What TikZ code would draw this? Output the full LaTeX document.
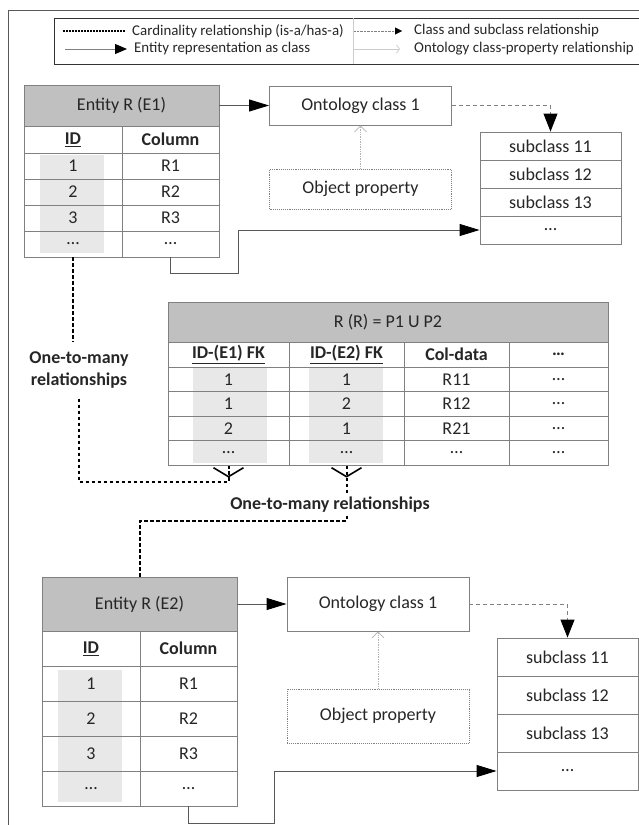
\documentclass[tikz,border=0pt]{standalone}
\usepackage{fontspec}
\setmainfont{Carlito}
\usetikzlibrary{arrows.meta}

\definecolor{hdrgray}{HTML}{C0C0C0}
\definecolor{shadegray}{HTML}{E8E8E8}
\definecolor{linegray}{HTML}{808080}
\definecolor{arrgray}{HTML}{595959}

\begin{document}
\begin{tikzpicture}[x=1pt, y=-1pt, every node/.style={text=black!85},
		cell/.style={draw=linegray, line width=0.9pt, inner sep=0pt, font=\fontsize{18}{22}\selectfont},
		hdr/.style={cell, fill=hdrgray},
		colhead/.style={cell, font=\fontsize{18}{22}\selectfont\bfseries},
		onto/.style={draw=linegray, line width=0.9pt, minimum width=182pt, inner sep=0pt, font=\fontsize{18}{22}\selectfont},
		prop/.style={onto, densely dotted},
		lbl/.style={font=\fontsize{18}{22}\selectfont\bfseries, align=center},
		legtext/.style={anchor=west, inner sep=0pt, font=\fontsize{14.9}{18}\selectfont},
		rel/.style={line width=2pt, dash pattern=on 3.5pt off 2.5pt},
		crow/.style={line width=1.6pt},
		entarrow/.style={arrgray, line width=0.9pt, -{Triangle[length=20pt,width=12pt,color=black]}},
		subarrow/.style={linegray, line width=0.9pt, dash pattern=on 4pt off 3pt, -{Triangle[length=18pt,width=14pt,color=black]}},
		proparrow/.style={gray!60, line width=0.7pt, densely dotted, -{Straight Barb[length=6pt,width=12pt,sep=0pt]}}]
		\useasboundingbox (0,0) rectangle (639,825);
		\draw[arrgray, line width=0.9pt] (8,830) -- (8,10) -- (645,10);
		\draw[black!80, line width=0.9pt] (645,18) -- (54,18) -- (54,64) -- (645,64);
		\draw[gray!40, line width=0.7pt] (353,18) -- (353,64);
		\node[legtext] (lg-card) at (132,31) {Cardinality relationship (is-a/has-a)};
		\node[legtext] (lg-ent) at (134,49) {Entity representation as class};
		\node[legtext] (lg-sub) at (414,31) {Class and subclass relationship};
		\node[legtext] (lg-prop) at (414,49) {Ontology class-property relationship};
		\coordinate (lg-a) at (63,31);
		\coordinate (lg-b) at (65,49);
		\coordinate (lg-c) at (354,31);
		\coordinate (lg-d) at (354,49);
		\draw[line width=1.5pt, dash pattern=on 1.5pt off 1.5pt] (lg-a) -- ([xshift=-7pt]lg-card.west);
		\draw[gray, line width=0.8pt, -{Triangle[length=12pt,width=10pt,color=black]}] (lg-b) -- ([xshift=-7pt]lg-ent.west);
		\draw[linegray, densely dotted, -{Triangle[length=7pt,width=7pt,color=black]}] (lg-c) -- ([xshift=-12pt]lg-sub.west);
		\draw[gray!40, line width=0.8pt, -{Straight Barb[length=3pt,width=8pt]}] (lg-d) -- ([xshift=-14pt]lg-prop.west);

		\fill[shadegray] (40,155) rectangle (104,253);
		\fill[shadegray] (193,367) rectangle (267,463);
		\fill[shadegray] (309,367) rectangle (383,463);
		\fill[shadegray] (58,670) rectangle (122,802);

		\node[hdr, minimum width=195pt, minimum height=41pt] (e1-head) at (121.5,105.5) {Entity R (E1)};
		\node[colhead, minimum width=98pt, minimum height=27pt] (e1-idh) at (73,139.5) {\underline{ID}};
		\node[colhead, minimum width=97pt, minimum height=27pt] (e1-colh) at (170.5,139.5) {Column};
		\foreach \v/\r [count=\i] in {1/R1, 2/R2, 3/R3, \dots/\dots}{
			\node[cell, minimum width=98pt, minimum height=26pt] (e1-id\i) at (73,140+26*\i) {\v};
			\node[cell, minimum width=97pt, minimum height=26pt] (e1-col\i) at (170.5,140+26*\i) {\r};
		}

		\node[hdr, minimum width=440pt, minimum height=40pt] (r-head) at (388,322) {R (R) = P1 U P2};
		\node[colhead, minimum width=121pt, minimum height=25pt] (r-ah) at (228.5,354.5) {\underline{ID-(E1) FK}};
		\node[colhead, minimum width=115pt, minimum height=25pt] (r-bh) at (346.5,354.5) {\underline{ID-(E2) FK}};
		\node[colhead, minimum width=105pt, minimum height=25pt] (r-ch) at (456.5,354.5) {Col-data};
		\node[colhead, minimum width=99pt, minimum height=25pt] (r-dh) at (558.5,354.5) {\dots};
		\foreach \a/\b/\c [count=\i] in {1/1/R11, 1/2/R12, 2/1/R21, \dots/\dots/\dots}{
			\node[cell, minimum width=121pt, minimum height=24.5pt] (r-a\i) at (228.5,355+24.5*\i) {\a};
			\node[cell, minimum width=115pt, minimum height=24.5pt] (r-b\i) at (346.5,355+24.5*\i) {\b};
			\node[cell, minimum width=105pt, minimum height=24.5pt] (r-c\i) at (456.5,355+24.5*\i) {\c};
			\node[cell, minimum width=99pt, minimum height=24.5pt] (r-d\i) at (558.5,355+24.5*\i) {\dots};
		}

		\node[hdr, minimum width=195pt, minimum height=54pt] (e2-head) at (139.5,604) {Entity R (E2)};
		\node[colhead, minimum width=98pt, minimum height=35pt] (e2-idh) at (91,648.5) {\underline{ID}};
		\node[colhead, minimum width=97pt, minimum height=35pt] (e2-colh) at (188.5,648.5) {Column};
		\foreach \v/\r [count=\i] in {1/R1, 2/R2, 3/R3, \dots/\dots}{
			\node[cell, minimum width=98pt, minimum height=35pt] (e2-id\i) at (91,648.5+35*\i) {\v};
			\node[cell, minimum width=97pt, minimum height=35pt] (e2-col\i) at (188.5,648.5+35*\i) {\r};
		}

		\node[onto, minimum height=39pt] (onto1) at (360.5,105.5) {Ontology class 1};
		\node[prop, minimum height=40pt] (prop1) at (360.5,189) {Object property};
		\node[onto, minimum height=54pt] (onto2) at (378,604) {Ontology class 1};
		\node[prop, minimum height=54pt] (prop2) at (378,716) {Object property};
		\foreach \s [count=\i] in {subclass 11, subclass 12, subclass 13, \dots}{
			\node[cell, minimum width=141pt, minimum height=28pt] (sub1-\i) at (550.5,118+28*\i) {\s};
			\node[cell, minimum width=141pt, minimum height=38pt] (sub2-\i) at (567.5,619+38*\i) {\s};
		}

		\node[lbl, inner sep=10pt] (many1) at (79,370) {One-to-many\\relationships};
		\node[lbl, inner sep=3pt] (many2) at (330,505) {One-to-many relationships};
		\coordinate (bend1) at (238,273);
		\coordinate (bend2) at (274,823);
		\coordinate (foot1) at (228.5,482);
		\coordinate (turn2) at (140,521);

		\draw[entarrow] (e1-head) -- (onto1);
			\draw[proparrow] (prop1) -- (onto1);
			\draw[subarrow] (onto1.east) -| (sub1-1.north);
		\draw[entarrow] (e1-col4.south) |- (bend1) |- (sub1-4.west);
		\draw[entarrow] (e2-head) -- (onto2);
			\draw[proparrow] (prop2) -- (onto2);
			\draw[subarrow] (onto2.east) -| (sub2-1.north);
		\draw[entarrow] (e2-col4.south) |- (bend2) |- (sub2-4.west);

		\draw[rel] (e1-id4.south) -- (e1-id4.south |- many1.north);
		\draw[rel] (many1.south) |- (foot1) -- (r-a4.south);
			\draw[crow] ([xshift=-15pt,yshift=-2pt]r-a4.south) -- ([yshift=-11pt]r-a4.south) -- ([xshift=15pt,yshift=-2pt]r-a4.south);
		\draw[rel] (r-b4.south) -- (r-b4.south |- many2.north);
			\draw[crow] ([xshift=-15pt,yshift=-2pt]r-b4.south) -- ([yshift=-11pt]r-b4.south) -- ([xshift=15pt,yshift=-2pt]r-b4.south);
		\draw[rel] (many2.south -| r-b4.south) |- (turn2) -- (turn2 |- e2-head.north);
\end{tikzpicture}
\end{document}
